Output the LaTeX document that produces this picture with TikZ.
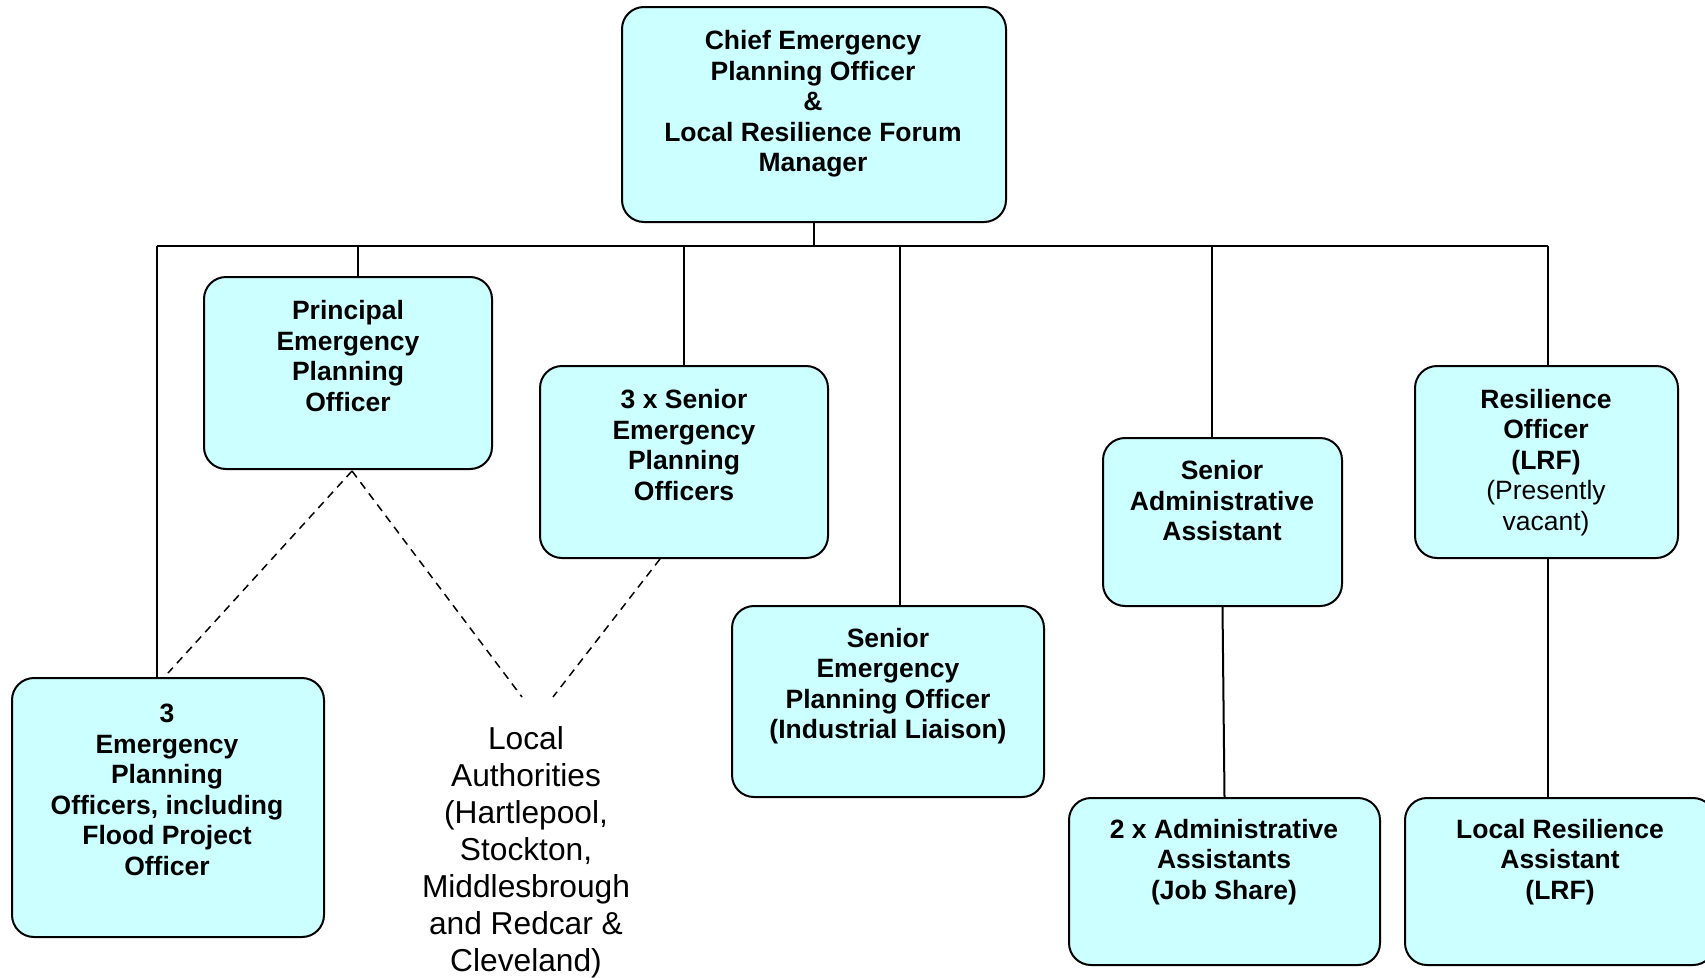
\documentclass[tikz,border=0pt]{standalone}
\usepackage{fontspec}
\setmainfont{Liberation Sans}
\definecolor{boxfill}{HTML}{CCFFFF}
\begin{document}
\begin{tikzpicture}[x=1pt,y=-1pt,
  box/.style={draw=black, line width=2pt, fill=boxfill, rounded corners=22pt, inner sep=0pt},
  lbl/.style={align=center, font=\fontsize{26.5}{30.5}\selectfont\bfseries, inner sep=0pt},
  lab/.style={align=center, font=\fontsize{31.7}{37}\selectfont, inner sep=0pt},
  conn/.style={draw=black, line width=2pt},
  dconn/.style={draw=black, line width=1.5pt, dash pattern=on 8pt off 6pt}]
\useasboundingbox (0,0) rectangle (1705,977);
\fill[white] (0,0) rectangle (1705,977);
% boxes
\node[box, minimum width=384pt, minimum height=215pt] (chief) at (814,114.5) {};
\node[box, minimum width=288pt, minimum height=192pt] (princ) at (348,373) {};
\node[box, minimum width=288pt, minimum height=192pt] (senior3) at (684,462) {};
\node[box, minimum width=312pt, minimum height=191pt] (sepo) at (888,701.5) {};
\node[box, minimum width=239pt, minimum height=168pt] (saa) at (1222.5,522) {};
\node[box, minimum width=263pt, minimum height=192pt] (ro) at (1546.5,462) {};
\node[box, minimum width=312pt, minimum height=259pt] (epo3) at (168,807.5) {};
\node[box, minimum width=311pt, minimum height=167pt] (aa2) at (1224.5,881.5) {};
\node[box, minimum width=310pt, minimum height=167pt] (lra) at (1560,881.5) {};
% texts
\node[lbl] (chiefT) at (813,104) {Chief Emergency\\Planning Officer\\\&\\Local Resilience Forum\\Manager};
\node[lbl] (princT) at (348,356) {Principal\\Emergency\\Planning\\Officer};
\node[lbl] (senior3T) at (684,445) {3 x Senior\\Emergency\\Planning\\Officers};
\node[lbl] (sepoT) at (888,686) {Senior\\Emergency\\Planning Officer\\(Industrial Liaison)};
\node[lbl] (saaT) at (1222,501) {Senior\\Administrative\\Assistant};
\node[lbl] (roT) at (1546,462.5) {Resilience\\Officer\\(LRF)\\\mdseries(Presently\\\mdseries vacant)};
\node[lbl] (epo3T) at (167,790) {3\\Emergency\\Planning\\Officers, including\\Flood Project\\Officer};
\node[lbl] (aa2T) at (1224,862) {2 x Administrative\\Assistants\\(Job Share)};
\node[lbl] (lraT) at (1560,862) {Local Resilience\\Assistant\\(LRF)};
\node[lab] (la) at (526,852) {Local\\Authorities\\(Hartlepool,\\Stockton,\\Middlesbrough\\and Redcar \&\\Cleveland)};
% bus
\coordinate (busL) at (157,246);
\coordinate (busR) at (1548,246);
\draw[conn] (busL) -- (busR);
\draw[conn] (chief.south) -- (chief.south |- busL);
\draw[conn] ([xshift=-11pt]epo3.north) -- ([xshift=-11pt]epo3.north |- busL);
\draw[conn] ([xshift=10pt]princ.north) -- ([xshift=10pt]princ.north |- busL);
\draw[conn] (senior3.north) -- (senior3.north |- busL);
\draw[conn] ([xshift=12pt]sepo.north) -- ([xshift=12pt]sepo.north |- busL);
\draw[conn] ([xshift=-10.5pt]saa.north) -- ([xshift=-10.5pt]saa.north |- busL);
\draw[conn] ([xshift=1.5pt]ro.north) -- ([xshift=1.5pt]ro.north |- busL);
\draw[conn] (saa.south) -- (aa2.north);
\draw[conn] ([xshift=1.5pt]ro.south) -- ([xshift=1.5pt]ro.south |- lra.north);
% dashed
\coordinate (pd) at (352,471);
\coordinate (e3d) at (168,673);
\coordinate (la1) at (522,697);
\coordinate (la2) at (553,697);
\draw[dconn] (pd) -- (e3d);
\draw[dconn] (pd) -- (la1);
\draw[dconn] ([xshift=-24pt]senior3.south) -- (la2);
\end{tikzpicture}
\end{document}
